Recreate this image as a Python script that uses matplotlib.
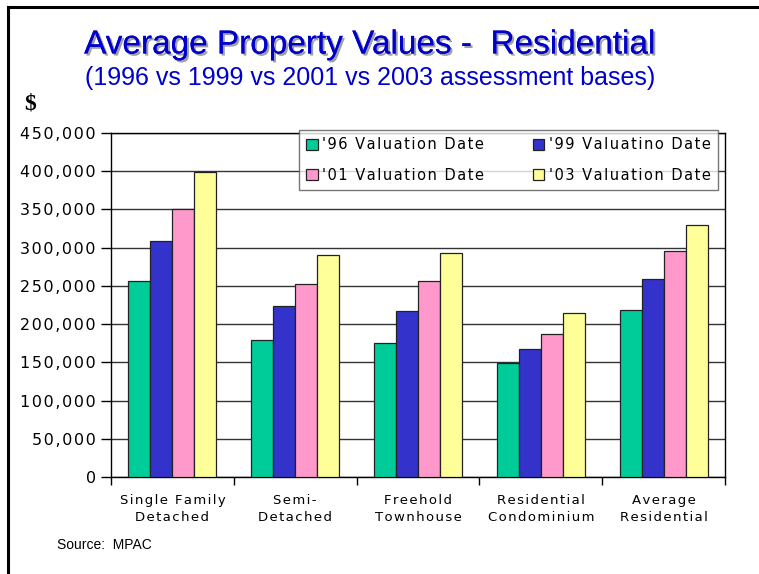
import numpy as np
import matplotlib
matplotlib.use('Agg')
import matplotlib.pyplot as plt
from matplotlib.lines import Line2D
import matplotlib.patheffects as pe

# Data
categories = ['Single Family\nDetached', 'Semi-\nDetached', 'Freehold\nTownhouse',
              'Residential\nCondominium', 'Average\nResidential']
series_names = ["'96 Valuation Date", "'99 Valuatino Date",
                "'01 Valuation Date", "'03 Valuation Date"]
val_96 = [257000, 179000, 175000, 148500, 218000]
val_99 = [309000, 224000, 217000, 168000, 258500]
val_01 = [350000, 253000, 256000, 187000, 295000]
val_03 = [398500, 291000, 292500, 215000, 330000]
colors = ['#00CC99', '#3333CC', '#FF99CC', '#FFFF99']


def spaced(s):
    # the original font is letter-spaced; mimic it with hair spaces
    return '\n'.join('\u200a'.join(line) for line in s.split('\n'))


fig = plt.figure(figsize=(7.59, 5.74), dpi=100)
ax = fig.add_axes([111/759, 97/574, 614/759, 344/574])

x = np.arange(len(categories))
bw = 0.179
bars = []
for i, vals in enumerate([val_96, val_99, val_01, val_03]):
    b = ax.bar(x + (i - 1.5) * bw, vals, bw, color=colors[i], edgecolor='#222222',
               linewidth=0.9, zorder=3)
    bars.append(b)

ax.set_xlim(-0.5, len(categories) - 0.5)
ax.set_ylim(0, 450000)
ax.set_yticks(np.arange(0, 450001, 50000))
ax.set_yticklabels([spaced(f'{v:,}') for v in range(0, 450001, 50000)],
                   fontsize=11.5, family='DejaVu Sans')
ax.yaxis.grid(True, color='#333333', linewidth=1, zorder=0)
ax.set_xticks(x)
ax.set_xticklabels([spaced(c) for c in categories], fontsize=9.5, family='DejaVu Sans',
                   linespacing=1.45)
ax.tick_params(axis='x', length=0, pad=12)
ax.tick_params(axis='y', length=7, width=1, pad=4)
# category boundary ticks
ax.set_xticks(np.arange(-0.5, len(categories)), minor=True)
ax.tick_params(axis='x', which='minor', length=6, width=1, direction='out')
for s in ax.spines.values():
    s.set_color('black')
    s.set_linewidth(1)

# row order: '96 '99 / '01 '03 (legend fills column-wise)
order = [0, 2, 1, 3]
leg = ax.legend([bars[k] for k in order], [spaced(series_names[k]) for k in order],
                ncol=2, loc='lower left', bbox_to_anchor=(299/759, 384/574, 419/759, 64/574),
                bbox_transform=fig.transFigure, mode='expand', frameon=True, fancybox=False,
                edgecolor='#555555', handlelength=0.8, handleheight=0.8,
                handletextpad=0.3, columnspacing=1.2, borderpad=0.5, labelspacing=1.05,
                borderaxespad=0, prop={'family': 'DejaVu Sans', 'size': 10.5})
leg.get_frame().set_linewidth(1)
leg.set_zorder(5)

fig.text(0.487, 1 - 45/574, 'Average Property Values -  Residential', ha='center', va='center',
         fontsize=24, color='#0000CC', family='Liberation Sans',
         path_effects=[pe.withSimplePatchShadow(offset=(1.5, -1.5), shadow_rgbFace='#888888', alpha=0.8),
                       pe.Normal()])
fig.text(0.487, 1 - 78/574, '(1996 vs 1999 vs 2001 vs 2003 assessment bases)', ha='center',
         va='center', fontsize=18, color='#0000CC', family='Liberation Sans')
fig.text(30/759, 1 - 104/574, '$', ha='center', va='center', fontsize=17, fontweight='bold',
         family='Liberation Serif')
fig.text(57/759, 1 - 545/574, 'Source:  MPAC', ha='left', va='center', fontsize=10,
         family='Liberation Sans')

# slide frame
fig.add_artist(Line2D([8/759, 8/759], [0, 1 - 7/574], color='black', linewidth=2.2,
                      transform=fig.transFigure))
fig.add_artist(Line2D([8/759, 1], [1 - 7/574, 1 - 7/574], color='black', linewidth=2.2,
                      transform=fig.transFigure))

fig.savefig('out.png', dpi=100)
